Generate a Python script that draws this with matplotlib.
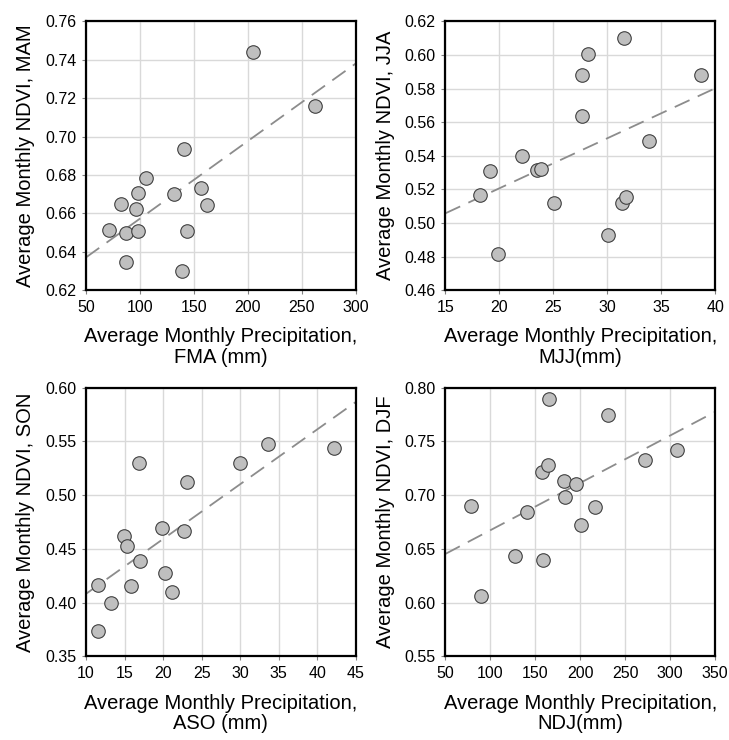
import numpy as np
import matplotlib
matplotlib.use("Agg")
import matplotlib.pyplot as plt

plt.rcParams['font.family'] = ['Liberation Sans', 'DejaVu Sans']

# FMA precipitation vs MAM NDVI
fma_precip = [71, 82.8, 86.8, 87.1, 96.4, 97.9, 98.5, 105.3, 131.6, 140.5,
              139.3, 143.3, 156.6, 161.9, 205.1, 262.6]
mam_ndvi = [0.6514, 0.6648, 0.6497, 0.6348, 0.6622, 0.6704, 0.6509, 0.6784,
            0.6699, 0.6935, 0.6302, 0.6507, 0.6730, 0.6646, 0.7440, 0.7161]

# MJJ precipitation vs JJA NDVI
mjj_precip = [18.18, 19.14, 19.88, 22.11, 23.53, 23.84, 25.07, 27.64, 27.67,
              28.2, 30.11, 31.35, 31.72, 31.53, 33.85, 38.73]
jja_ndvi = [0.5164, 0.5311, 0.4814, 0.5400, 0.5317, 0.5323, 0.5120, 0.5636,
            0.5884, 0.6007, 0.4930, 0.5118, 0.5152, 0.6103, 0.5489, 0.5884]

# ASO precipitation vs SON NDVI
aso_precip = [11.6, 11.6, 13.25, 14.93, 15.37, 15.84, 16.88, 17.05, 19.82,
              20.21, 21.16, 22.76, 23.11, 29.95, 33.67, 42.19]
son_ndvi = [0.4163, 0.3732, 0.3996, 0.4618, 0.4529, 0.4155, 0.5299, 0.4386,
            0.4699, 0.4275, 0.4098, 0.4668, 0.5120, 0.5299, 0.5476, 0.5442]

# NDJ precipitation vs DJF NDVI
ndj_precip = [78.6, 89.3, 127.1, 140.5, 157.5, 158.6, 165.3, 164.6, 182.0,
              183.5, 195.0, 201.3, 216.1, 230.6, 271.7, 307.3]
djf_ndvi = [0.6903, 0.6058, 0.6436, 0.6848, 0.7213, 0.6401, 0.7898, 0.7281,
            0.7136, 0.6984, 0.7102, 0.6727, 0.6894, 0.7749, 0.7328, 0.7421]

panels = [
    (fma_precip, mam_ndvi, (50, 300), np.arange(50, 301, 50), (0.62, 0.76),
     np.arange(0.62, 0.7601, 0.02),
     'Average Monthly Precipitation,\nFMA (mm)', 'Average Monthly NDVI, MAM'),
    (mjj_precip, jja_ndvi, (15, 40), np.arange(15, 41, 5), (0.46, 0.62),
     np.arange(0.46, 0.6201, 0.02),
     'Average Monthly Precipitation,\nMJJ(mm)', 'Average Monthly NDVI, JJA'),
    (aso_precip, son_ndvi, (10, 45), np.arange(10, 46, 5), (0.35, 0.60),
     np.arange(0.35, 0.6001, 0.05),
     'Average Monthly Precipitation,\nASO (mm)', 'Average Monthly NDVI, SON'),
    (ndj_precip, djf_ndvi, (50, 350), np.arange(50, 351, 50), (0.55, 0.80),
     np.arange(0.55, 0.8001, 0.05),
     'Average Monthly Precipitation,\nNDJ(mm)', 'Average Monthly NDVI, DJF'),
]

positions = [
    [0.118, 0.608, 0.370, 0.363],
    [0.611, 0.608, 0.370, 0.363],
    [0.118, 0.113, 0.370, 0.363],
    [0.611, 0.113, 0.370, 0.363],
]

fig = plt.figure(figsize=(7.29, 7.40), dpi=100)

for pos, (x, y, xlim, xticks, ylim, yticks, xlabel, ylabel) in zip(positions, panels):
    ax = fig.add_axes(pos)
    x = np.array(x)
    y = np.array(y)

    ax.grid(True, color='#d9d9d9', linewidth=1.0, zorder=0)
    ax.set_axisbelow(True)

    # linear trendline over the full axis range
    slope, intercept = np.polyfit(x, y, 1)
    xs = np.array(xlim, dtype=float)
    ax.plot(xs, slope * xs + intercept, color='#8c8c8c', linewidth=1.3,
            dashes=(9, 5), zorder=2)

    ax.scatter(x, y, s=95, facecolor='#bfbfbf', edgecolor='#404040',
               linewidth=0.8, zorder=3)

    ax.set_xlim(xlim)
    ax.set_ylim(ylim)
    ax.set_xticks(xticks)
    ax.set_yticks(yticks)
    ax.set_xticklabels([str(int(v)) for v in xticks])
    ax.set_yticklabels(['{:.2f}'.format(v) for v in yticks])
    ax.tick_params(axis='both', labelsize=11.5, length=3, width=0.8,
                   color='#808080', pad=4)

    for spine in ax.spines.values():
        spine.set_linewidth(1.6)
        spine.set_color('black')

    ax.set_xlabel(xlabel, fontsize=14.5, labelpad=9, linespacing=1.1)
    ax.set_ylabel(ylabel, fontsize=14.5, labelpad=7)

fig.savefig('out.png', dpi=100)
